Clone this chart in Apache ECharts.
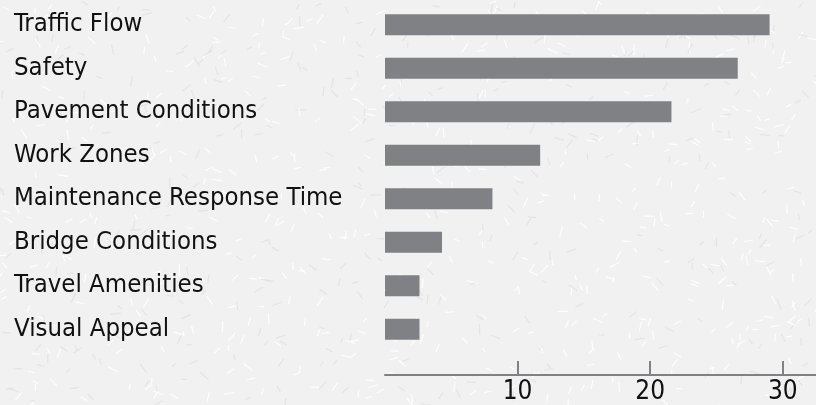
<!DOCTYPE html>
<html><head><meta charset="utf-8">
<script src="https://cdn.jsdelivr.net/npm/echarts@6/dist/echarts.min.js"></script>
<style>html,body{margin:0;padding:0;background:#f1f1f1}#c{width:816px;height:405px}</style>
</head><body><div id="c"></div>
<script>
const categories = ["Traffic Flow","Safety","Pavement Conditions","Work Zones","Maintenance Response Time","Bridge Conditions","Travel Amenities","Visual Appeal"];
const values = [29.0, 26.6, 21.6, 11.7, 8.1, 4.3, 2.6, 2.6];
const tickValues = [10, 20, 30];

// decorative background texture (deterministic)
function makeTexture(){
  const cv = document.createElement('canvas');
  cv.width = 816; cv.height = 405;
  const g = cv.getContext('2d');
  g.fillStyle = '#f1f1f1'; g.fillRect(0,0,816,405);
  let s = 12345;
  const rnd = () => { s = (s * 1103515245 + 12345) & 0x7fffffff; return s / 0x7fffffff; };
  g.lineWidth = 1.2;
  for (let i = 0; i < 900; i++) {
    const x = rnd()*816, y = rnd()*405, a = rnd()*Math.PI, L = 5 + rnd()*6;
    g.strokeStyle = rnd() < 0.6 ? 'rgba(255,255,255,0.9)' : 'rgba(215,215,215,0.5)';
    g.beginPath(); g.moveTo(x, y); g.lineTo(x + Math.cos(a)*L, y + Math.sin(a)*L); g.stroke();
  }
  return cv;
}

const font = "'Liberation Sans Narrow', 'DejaVu Sans Condensed', 'Roboto', sans-serif";
const chart = echarts.init(document.getElementById('c'));
chart.setOption({
  animation: false,
  backgroundColor: { image: makeTexture(), repeat: 'no-repeat' },
  grid: { left: 385, right: 0, top: 3, bottom: 52, containLabel: false },
  xAxis: {
    type: 'value', min: 0, max: 32.5, interval: 10, offset: 24,
    splitLine: { show: false },
    axisLine: { show: true, lineStyle: { color: '#808184', width: 2 } },
    axisTick: { show: true, inside: true, length: 14, customValues: tickValues, lineStyle: { color: '#808184', width: 2 } },
    axisLabel: { customValues: tickValues, color: '#111', fontFamily: font, fontSize: 26, margin: 4 }
  },
  yAxis: {
    type: 'category', data: categories, inverse: true,
    axisLine: { show: false }, axisTick: { show: false },
    axisLabel: { align: 'left', margin: 371, color: '#111', fontFamily: font, fontSize: 25.5 }
  },
  series: [{
    type: 'bar', data: values, barWidth: 21,
    itemStyle: { color: '#808184' }
  }]
});
</script></body></html>
